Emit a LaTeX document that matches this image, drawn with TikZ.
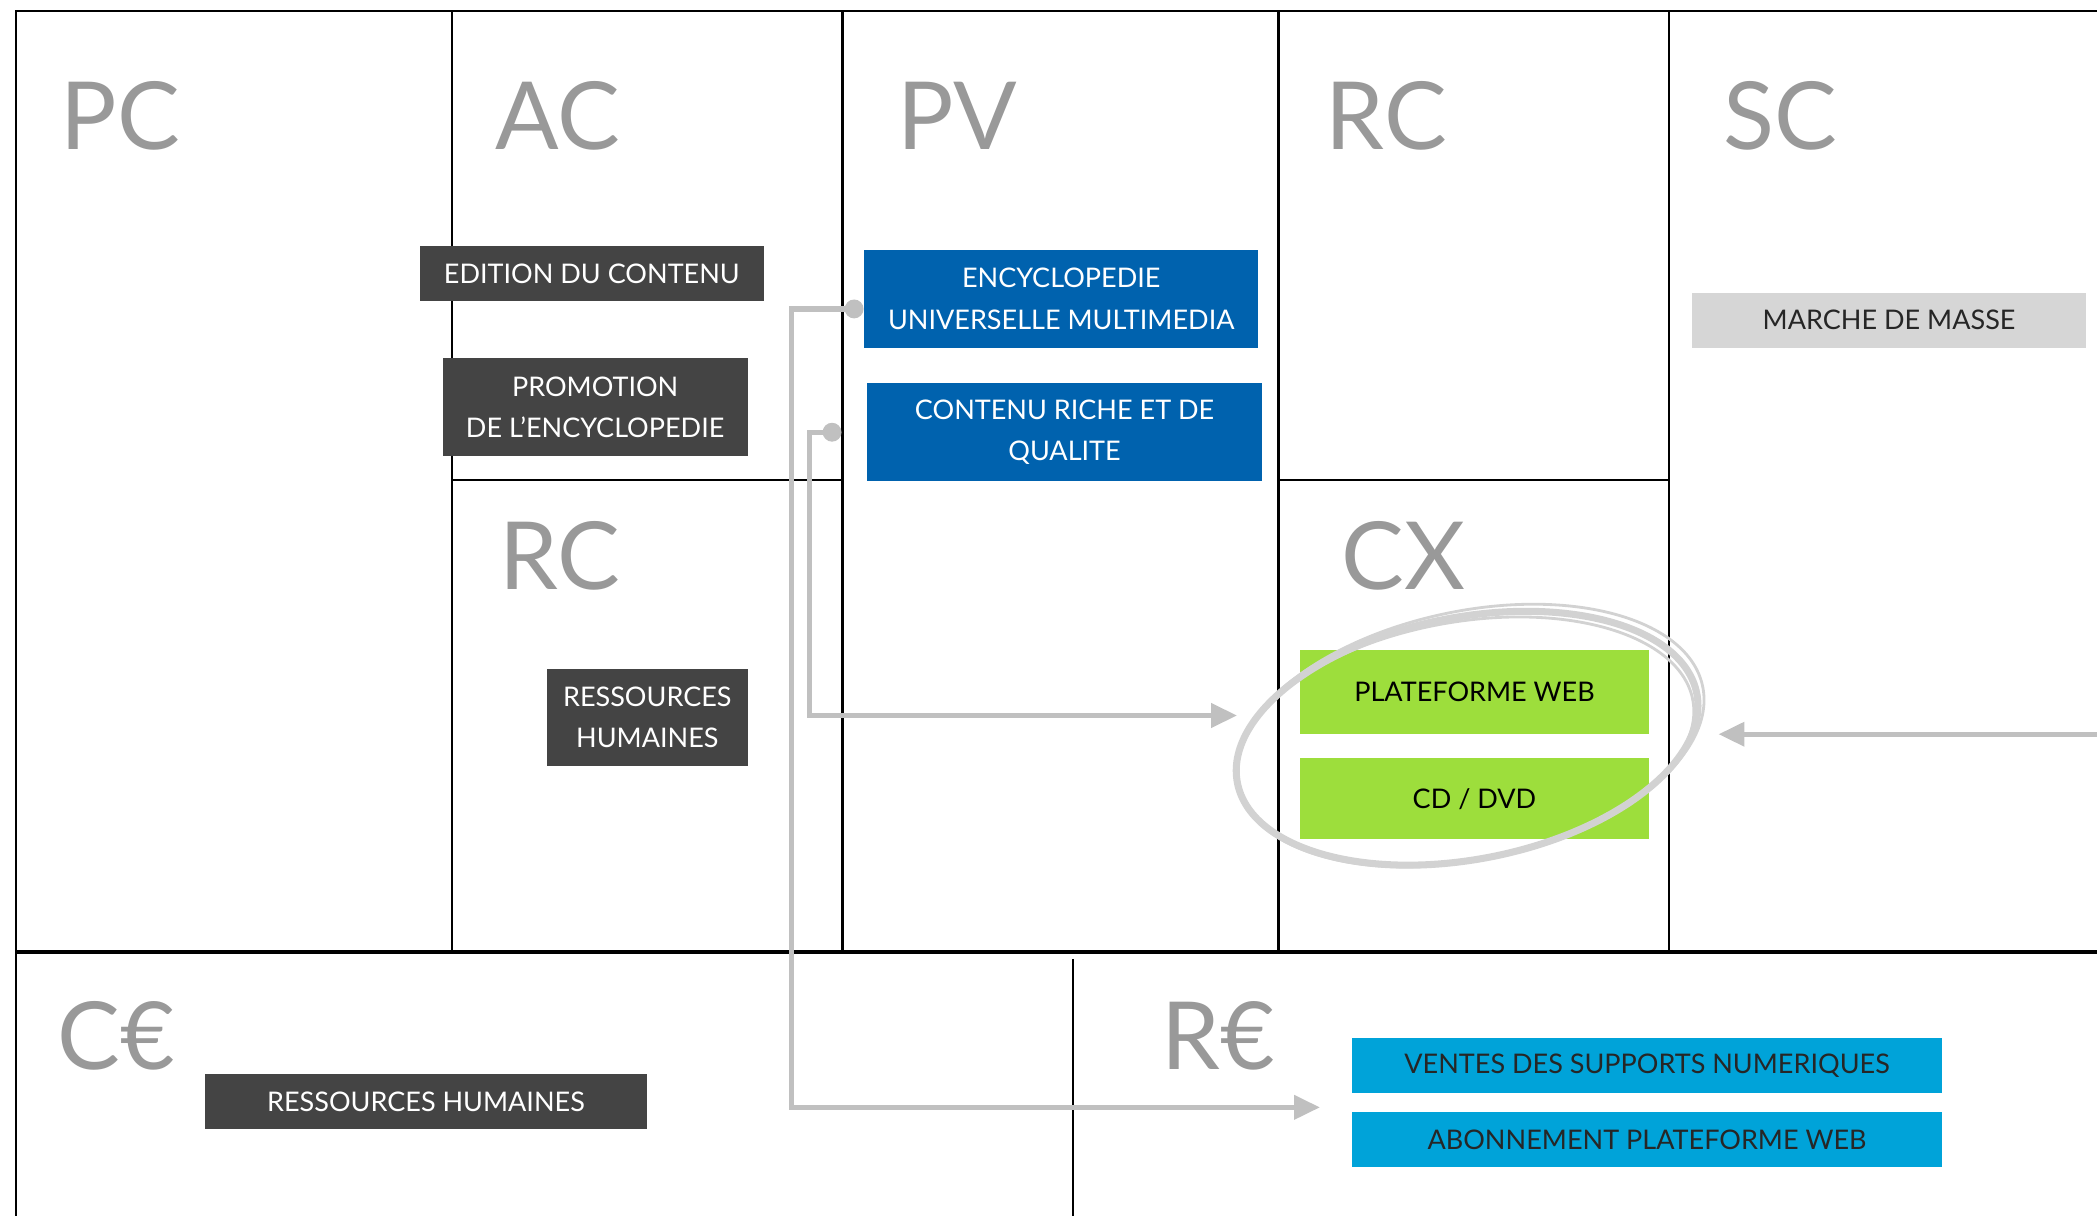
\documentclass[tikz,border=0pt]{standalone}
\usepackage{fontspec}
\setmainfont{Lato}
\usepackage{xcolor}
\definecolor{titregris}{RGB}{153,153,153}
\definecolor{grisfonce}{RGB}{68,68,68}
\definecolor{bleuprop}{RGB}{0,98,174}
\definecolor{grisclair}{RGB}{214,214,214}
\definecolor{vertcanal}{RGB}{157,222,60}
\definecolor{bleurev}{RGB}{0,163,217}
\definecolor{grislien}{RGB}{192,192,192}
\definecolor{griscercle}{RGB}{210,210,210}
\usepackage{tikz}
\usetikzlibrary{positioning, arrows.meta}

\begin{document}
\begin{tikzpicture}[
  x=0.02cm, y=-0.02cm,
  node distance=0.5cm,
  titre/.style={anchor=base west, inner sep=0pt, text=titregris, font=\fontsize{40}{40}\selectfont},
  bloc/.style={rectangle, inner sep=0pt, align=center, font=\fontsize{11.5}{17.6}\selectfont},
  sombre/.style={bloc, fill=grisfonce, text=white},
  propval/.style={bloc, fill=bleuprop, text=white, minimum width=5.9cm, minimum height=1.46cm},
  canal/.style={bloc, fill=vertcanal, text=black, minimum width=5.22cm},
  revenu/.style={bloc, fill=bleurev, text=black!85, minimum width=8.82cm, minimum height=0.82cm},
  grille/.style={line width=0.9pt, color=black},
  lien/.style={line width=2.2pt, color=grislien, {Circle[length=8pt]}-{Triangle[length=11pt, width=10pt]}},
  fleche/.style={line width=2.2pt, color=grislien, -{Triangle[length=11pt, width=10pt]}},
  cercle/.style={line width=1.2pt, color=griscercle}
]
\useasboundingbox (0,0) rectangle (1568,909);
\clip (0,0) rectangle (1568,909);
% Grille du canevas
\draw[grille] (1600,8) -- (12,8) -- (12,940);
\foreach \x in {338,630,956,1248}
  \draw[grille] (\x,8) -- (\x,712);
\draw[grille] (338,359) -- (630,359);
\draw[grille] (956,359) -- (1248,359);
\draw[grille, line width=1.7pt] (12,712) -- (1600,712);
\draw[grille] (802,717) -- (802,940);
% Titres
\node[titre] (pc) at (45,112) {PC};
\node[titre] (ac) at (370,112) {AC};
\node[titre] (pv) at (671,112) {PV};
\node[titre] (rc) at (991,112) {RC};
\node[titre] (sc) at (1288,112) {SC};
\node[titre] (rc2) at (373,441) {RC};
\node[titre] (cx) at (1003,441) {CX};
\node[titre] (ce) at (43,800) {C€};
\node[titre] (re) at (868,800) {R€};
% Blocs
\node[sombre, minimum width=5.14cm, minimum height=0.82cm] (edition) at (442.5,204.5) {EDITION DU CONTENU};
\node[sombre, minimum width=4.56cm, minimum height=1.46cm] (promo) at (445,304.5) {PROMOTION\\DE L'ENCYCLOPEDIE};
\node[sombre, minimum width=3cm, minimum height=1.46cm] (rhum) at (484,536.5) {RESSOURCES\\HUMAINES};
\node[propval] (encyclo) at (793.5,223.5) {ENCYCLOPEDIE\\UNIVERSELLE MULTIMEDIA};
\node[propval, below=0.52cm of encyclo, xshift=0.05cm] (contenu) {CONTENU RICHE ET DE\\QUALITE};
\node[bloc, fill=grisclair, text=black!85, minimum width=5.9cm, minimum height=0.82cm] (masse) at (1412.5,239.5) {MARCHE DE MASSE};
\node[canal, minimum height=1.26cm] (web) at (1102.5,517.5) {PLATEFORME WEB};
\node[canal, minimum height=1.22cm, below=0.34cm of web] (cddvd) {CD / DVD};
\node[sombre, minimum width=6.62cm, minimum height=0.82cm] (rhcout) at (318.5,823.5) {RESSOURCES HUMAINES};
\node[revenu] (ventes) at (1231.5,796.5) {VENTES DES SUPPORTS NUMERIQUES};
\node[revenu, below=0.28cm of ventes] (abonne) {ABONNEMENT PLATEFORME WEB};
% Liens
\coordinate (verscx) at (925,535);
\coordinate (versre) at (987,828);
\coordinate (depsc) at (1600,549);
\coordinate (finsc) at (1285,549);
\draw[lien] ([yshift=-0.15cm]encyclo.west) -- ++(-54,0) |- (versre);
\draw[lien] ([xshift=-0.38cm]contenu.west) -- ++(-24,0) |- (verscx);
\draw[fleche] (depsc) -- (finsc);
% Cercle a main levee
\draw[cercle, line width=3pt, rotate around={11:(1097,552)}] (1097,552) ellipse [x radius=3.5cm, y radius=1.81cm];
\draw[cercle, rotate around={12:(1099,550)}] (1099,550) ellipse [x radius=3.56cm, y radius=1.86cm];
\draw[cercle, rotate around={10:(1095,554)}] (1095,554) ellipse [x radius=3.47cm, y radius=1.78cm];
\end{tikzpicture}
\end{document}
